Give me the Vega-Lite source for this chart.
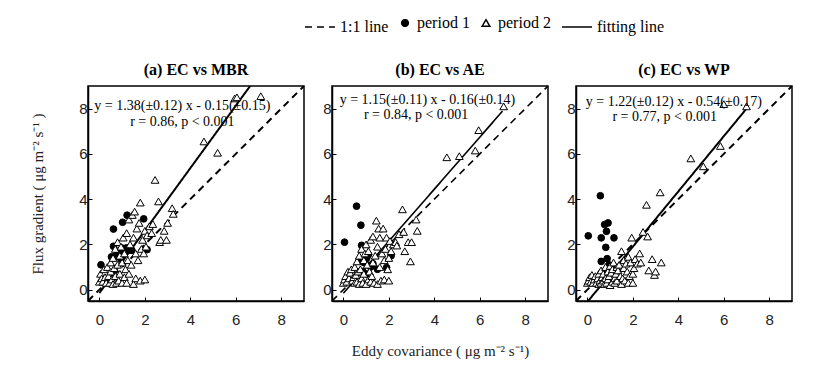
{
  "$schema": "https://vega.github.io/schema/vega-lite/v6.json",
  "padding": {"left": 29, "top": 11, "right": 5, "bottom": 5},
  "background": "white",
  "spacing": 16,
  "config": {
    "view": {"stroke": "black", "strokeWidth": 1.5},
    "axis": {"labelFont": "Liberation Sans", "labelFontSize": 15, "labelColor": "#222", "tickSize": -4, "tickColor": "black", "domainColor": "black", "domainWidth": 1.5, "grid": false, "labelPadding": 5, "titleFont": "Liberation Serif", "titleFontSize": 15, "titleFontWeight": "normal", "titleColor": "#222"},
    "title": {"font": "Liberation Serif", "fontSize": 16, "fontWeight": "bold", "color": "black", "offset": 8},
    "legend": {"orient": "none", "legendX": 216, "legendY": -75, "direction": "horizontal", "title": null, "labelFont": "Liberation Serif", "labelFontSize": 16, "labelColor": "black", "symbolStrokeColor": "black", "symbolStrokeWidth": 1.5, "columnPadding": 8}
  },
  "datasets": {
    "pts": [
      {"p":"a","s":"period 1","x":0.07,"y":1.1},{"p":"a","s":"period 1","x":0.62,"y":2.68},{"p":"a","s":"period 1","x":1.02,"y":2.98},{"p":"a","s":"period 1","x":1.22,"y":3.29},{"p":"a","s":"period 1","x":1.95,"y":3.13},{"p":"a","s":"period 1","x":0.62,"y":1.92},{"p":"a","s":"period 1","x":1.0,"y":1.84},{"p":"a","s":"period 1","x":1.2,"y":1.85},{"p":"a","s":"period 1","x":0.53,"y":1.45},{"p":"a","s":"period 1","x":0.7,"y":1.48},{"p":"a","s":"period 1","x":0.88,"y":1.55},{"p":"a","s":"period 1","x":1.28,"y":1.74},{"p":"a","s":"period 1","x":1.43,"y":1.74},{"p":"a","s":"period 1","x":2.1,"y":1.77},{"p":"a","s":"period 1","x":0.8,"y":1.7},{"p":"a","s":"period 1","x":1.1,"y":1.6},{"p":"a","s":"period 1","x":0.95,"y":1.35},
      {"p":"b","s":"period 1","x":0.05,"y":2.1},{"p":"b","s":"period 1","x":0.58,"y":3.69},{"p":"b","s":"period 1","x":0.77,"y":2.85},{"p":"b","s":"period 1","x":0.8,"y":1.96},{"p":"b","s":"period 1","x":1.9,"y":0.98},{"p":"b","s":"period 1","x":2.1,"y":1.5},{"p":"b","s":"period 1","x":1.03,"y":1.4},{"p":"b","s":"period 1","x":1.05,"y":1.1},{"p":"b","s":"period 1","x":0.9,"y":1.2},{"p":"b","s":"period 1","x":1.2,"y":1.0},{"p":"b","s":"period 1","x":0.85,"y":0.8},{"p":"b","s":"period 1","x":1.1,"y":1.55},{"p":"b","s":"period 1","x":1.3,"y":1.15},{"p":"b","s":"period 1","x":0.7,"y":1.3},{"p":"b","s":"period 1","x":1.5,"y":0.9},{"p":"b","s":"period 1","x":1.0,"y":0.7},
      {"p":"c","s":"period 1","x":0.57,"y":4.15},{"p":"c","s":"period 1","x":0.04,"y":2.38},{"p":"c","s":"period 1","x":0.61,"y":2.29},{"p":"c","s":"period 1","x":0.76,"y":2.88},{"p":"c","s":"period 1","x":0.91,"y":2.95},{"p":"c","s":"period 1","x":0.84,"y":2.58},{"p":"c","s":"period 1","x":0.81,"y":1.87},{"p":"c","s":"period 1","x":1.17,"y":2.29},{"p":"c","s":"period 1","x":0.61,"y":1.25},{"p":"c","s":"period 1","x":0.87,"y":1.37},{"p":"c","s":"period 1","x":0.95,"y":1.1},{"p":"c","s":"period 1","x":1.1,"y":0.9},{"p":"c","s":"period 1","x":0.7,"y":0.8},
      {"p":"a","s":"period 2","x":0.0,"y":0.35},{"p":"a","s":"period 2","x":0.05,"y":0.7},{"p":"a","s":"period 2","x":0.1,"y":0.5},{"p":"a","s":"period 2","x":0.15,"y":0.35},{"p":"a","s":"period 2","x":0.2,"y":0.9},{"p":"a","s":"period 2","x":0.25,"y":0.55},{"p":"a","s":"period 2","x":0.3,"y":0.3},{"p":"a","s":"period 2","x":0.35,"y":1.0},{"p":"a","s":"period 2","x":0.4,"y":0.6},{"p":"a","s":"period 2","x":0.45,"y":0.3},{"p":"a","s":"period 2","x":0.5,"y":1.2},{"p":"a","s":"period 2","x":0.5,"y":0.8},{"p":"a","s":"period 2","x":0.55,"y":0.45},{"p":"a","s":"period 2","x":0.6,"y":1.4},{"p":"a","s":"period 2","x":0.6,"y":0.25},{"p":"a","s":"period 2","x":0.65,"y":0.95},{"p":"a","s":"period 2","x":0.7,"y":0.6},{"p":"a","s":"period 2","x":0.7,"y":1.8},{"p":"a","s":"period 2","x":0.75,"y":0.3},{"p":"a","s":"period 2","x":0.8,"y":2.1},{"p":"a","s":"period 2","x":0.8,"y":1.1},{"p":"a","s":"period 2","x":0.85,"y":0.4},{"p":"a","s":"period 2","x":0.9,"y":1.5},{"p":"a","s":"period 2","x":0.9,"y":0.7},{"p":"a","s":"period 2","x":0.95,"y":1.9},{"p":"a","s":"period 2","x":1.0,"y":0.3},{"p":"a","s":"period 2","x":1.0,"y":1.2},{"p":"a","s":"period 2","x":1.05,"y":2.3},{"p":"a","s":"period 2","x":1.1,"y":0.55},{"p":"a","s":"period 2","x":1.1,"y":1.6},{"p":"a","s":"period 2","x":1.15,"y":0.9},{"p":"a","s":"period 2","x":1.2,"y":2.5},{"p":"a","s":"period 2","x":1.2,"y":0.3},{"p":"a","s":"period 2","x":1.25,"y":1.3},{"p":"a","s":"period 2","x":1.3,"y":3.1},{"p":"a","s":"period 2","x":1.3,"y":0.7},{"p":"a","s":"period 2","x":1.35,"y":2.0},{"p":"a","s":"period 2","x":1.4,"y":1.1},{"p":"a","s":"period 2","x":1.45,"y":3.3},{"p":"a","s":"period 2","x":1.5,"y":0.25},{"p":"a","s":"period 2","x":1.5,"y":2.3},{"p":"a","s":"period 2","x":1.55,"y":3.45},{"p":"a","s":"period 2","x":1.6,"y":1.6},{"p":"a","s":"period 2","x":1.6,"y":0.5},{"p":"a","s":"period 2","x":1.65,"y":2.7},{"p":"a","s":"period 2","x":1.7,"y":1.3},{"p":"a","s":"period 2","x":1.75,"y":2.95},{"p":"a","s":"period 2","x":1.8,"y":3.85},{"p":"a","s":"period 2","x":1.8,"y":0.4},{"p":"a","s":"period 2","x":1.85,"y":1.8},{"p":"a","s":"period 2","x":1.9,"y":2.2},{"p":"a","s":"period 2","x":1.95,"y":1.6},{"p":"a","s":"period 2","x":2.0,"y":0.45},{"p":"a","s":"period 2","x":2.0,"y":2.6},{"p":"a","s":"period 2","x":2.05,"y":1.9},{"p":"a","s":"period 2","x":2.1,"y":2.4},{"p":"a","s":"period 2","x":2.2,"y":2.8},{"p":"a","s":"period 2","x":2.3,"y":2.5},{"p":"a","s":"period 2","x":2.35,"y":2.9},{"p":"a","s":"period 2","x":2.45,"y":4.85},{"p":"a","s":"period 2","x":2.6,"y":3.9},{"p":"a","s":"period 2","x":2.65,"y":2.1},{"p":"a","s":"period 2","x":2.7,"y":2.2},{"p":"a","s":"period 2","x":2.85,"y":2.6},{"p":"a","s":"period 2","x":2.95,"y":2.2},{"p":"a","s":"period 2","x":3.0,"y":2.95},{"p":"a","s":"period 2","x":3.2,"y":3.6},{"p":"a","s":"period 2","x":3.25,"y":3.35},{"p":"a","s":"period 2","x":4.6,"y":6.55},{"p":"a","s":"period 2","x":5.2,"y":6.05},{"p":"a","s":"period 2","x":5.95,"y":8.45},{"p":"a","s":"period 2","x":6.05,"y":8.5},{"p":"a","s":"period 2","x":7.1,"y":8.55},
      {"p":"b","s":"period 2","x":0.0,"y":0.3},{"p":"b","s":"period 2","x":0.05,"y":0.45},{"p":"b","s":"period 2","x":0.1,"y":0.6},{"p":"b","s":"period 2","x":0.15,"y":0.35},{"p":"b","s":"period 2","x":0.2,"y":0.8},{"p":"b","s":"period 2","x":0.25,"y":0.5},{"p":"b","s":"period 2","x":0.3,"y":0.75},{"p":"b","s":"period 2","x":0.35,"y":0.9},{"p":"b","s":"period 2","x":0.4,"y":0.4},{"p":"b","s":"period 2","x":0.45,"y":0.55},{"p":"b","s":"period 2","x":0.5,"y":1.0},{"p":"b","s":"period 2","x":0.5,"y":0.3},{"p":"b","s":"period 2","x":0.55,"y":0.65},{"p":"b","s":"period 2","x":0.6,"y":1.25},{"p":"b","s":"period 2","x":0.6,"y":0.35},{"p":"b","s":"period 2","x":0.65,"y":0.8},{"p":"b","s":"period 2","x":0.7,"y":1.5},{"p":"b","s":"period 2","x":0.7,"y":0.25},{"p":"b","s":"period 2","x":0.75,"y":0.9},{"p":"b","s":"period 2","x":0.8,"y":1.8},{"p":"b","s":"period 2","x":0.8,"y":0.5},{"p":"b","s":"period 2","x":0.85,"y":0.3},{"p":"b","s":"period 2","x":0.9,"y":1.3},{"p":"b","s":"period 2","x":0.9,"y":0.7},{"p":"b","s":"period 2","x":0.95,"y":1.6},{"p":"b","s":"period 2","x":1.0,"y":0.25},{"p":"b","s":"period 2","x":1.0,"y":2.0},{"p":"b","s":"period 2","x":1.05,"y":1.1},{"p":"b","s":"period 2","x":1.1,"y":0.45},{"p":"b","s":"period 2","x":1.1,"y":1.7},{"p":"b","s":"period 2","x":1.15,"y":0.8},{"p":"b","s":"period 2","x":1.2,"y":2.2},{"p":"b","s":"period 2","x":1.2,"y":0.35},{"p":"b","s":"period 2","x":1.25,"y":0.6},{"p":"b","s":"period 2","x":1.3,"y":2.35},{"p":"b","s":"period 2","x":1.3,"y":1.2},{"p":"b","s":"period 2","x":1.35,"y":0.3},{"p":"b","s":"period 2","x":1.4,"y":1.5},{"p":"b","s":"period 2","x":1.45,"y":3.05},{"p":"b","s":"period 2","x":1.5,"y":0.25},{"p":"b","s":"period 2","x":1.5,"y":1.9},{"p":"b","s":"period 2","x":1.55,"y":2.7},{"p":"b","s":"period 2","x":1.6,"y":1.0},{"p":"b","s":"period 2","x":1.6,"y":2.3},{"p":"b","s":"period 2","x":1.65,"y":0.4},{"p":"b","s":"period 2","x":1.7,"y":1.6},{"p":"b","s":"period 2","x":1.75,"y":2.7},{"p":"b","s":"period 2","x":1.8,"y":1.3},{"p":"b","s":"period 2","x":1.8,"y":0.45},{"p":"b","s":"period 2","x":1.85,"y":1.8},{"p":"b","s":"period 2","x":1.9,"y":2.3},{"p":"b","s":"period 2","x":1.95,"y":0.9},{"p":"b","s":"period 2","x":2.0,"y":0.4},{"p":"b","s":"period 2","x":2.0,"y":1.4},{"p":"b","s":"period 2","x":2.05,"y":2.15},{"p":"b","s":"period 2","x":2.1,"y":1.7},{"p":"b","s":"period 2","x":2.2,"y":2.0},{"p":"b","s":"period 2","x":2.3,"y":2.1},{"p":"b","s":"period 2","x":2.35,"y":1.95},{"p":"b","s":"period 2","x":2.45,"y":2.45},{"p":"b","s":"period 2","x":2.6,"y":3.55},{"p":"b","s":"period 2","x":2.65,"y":2.55},{"p":"b","s":"period 2","x":2.7,"y":1.7},{"p":"b","s":"period 2","x":2.85,"y":2.1},{"p":"b","s":"period 2","x":2.95,"y":1.25},{"p":"b","s":"period 2","x":3.0,"y":2.1},{"p":"b","s":"period 2","x":3.2,"y":3.1},{"p":"b","s":"period 2","x":3.25,"y":2.6},{"p":"b","s":"period 2","x":4.55,"y":5.85},{"p":"b","s":"period 2","x":5.1,"y":5.9},{"p":"b","s":"period 2","x":5.8,"y":6.15},{"p":"b","s":"period 2","x":5.95,"y":7.05},{"p":"b","s":"period 2","x":7.05,"y":8.1},
      {"p":"c","s":"period 2","x":0.0,"y":0.3},{"p":"c","s":"period 2","x":0.05,"y":0.4},{"p":"c","s":"period 2","x":0.1,"y":0.55},{"p":"c","s":"period 2","x":0.15,"y":0.35},{"p":"c","s":"period 2","x":0.2,"y":0.65},{"p":"c","s":"period 2","x":0.25,"y":0.3},{"p":"c","s":"period 2","x":0.3,"y":0.45},{"p":"c","s":"period 2","x":0.35,"y":0.6},{"p":"c","s":"period 2","x":0.4,"y":0.3},{"p":"c","s":"period 2","x":0.45,"y":0.5},{"p":"c","s":"period 2","x":0.5,"y":0.7},{"p":"c","s":"period 2","x":0.5,"y":0.25},{"p":"c","s":"period 2","x":0.55,"y":0.4},{"p":"c","s":"period 2","x":0.6,"y":0.85},{"p":"c","s":"period 2","x":0.6,"y":0.3},{"p":"c","s":"period 2","x":0.65,"y":0.55},{"p":"c","s":"period 2","x":0.7,"y":0.4},{"p":"c","s":"period 2","x":0.7,"y":0.7},{"p":"c","s":"period 2","x":0.75,"y":0.25},{"p":"c","s":"period 2","x":0.8,"y":1.0},{"p":"c","s":"period 2","x":0.8,"y":0.5},{"p":"c","s":"period 2","x":0.85,"y":0.3},{"p":"c","s":"period 2","x":0.9,"y":0.8},{"p":"c","s":"period 2","x":0.9,"y":0.45},{"p":"c","s":"period 2","x":0.95,"y":0.6},{"p":"c","s":"period 2","x":1.0,"y":0.2},{"p":"c","s":"period 2","x":1.0,"y":1.05},{"p":"c","s":"period 2","x":1.05,"y":0.75},{"p":"c","s":"period 2","x":1.1,"y":0.35},{"p":"c","s":"period 2","x":1.1,"y":0.9},{"p":"c","s":"period 2","x":1.15,"y":1.2},{"p":"c","s":"period 2","x":1.2,"y":0.5},{"p":"c","s":"period 2","x":1.2,"y":0.3},{"p":"c","s":"period 2","x":1.25,"y":0.7},{"p":"c","s":"period 2","x":1.3,"y":1.0},{"p":"c","s":"period 2","x":1.3,"y":0.4},{"p":"c","s":"period 2","x":1.35,"y":0.85},{"p":"c","s":"period 2","x":1.4,"y":1.1},{"p":"c","s":"period 2","x":1.45,"y":0.6},{"p":"c","s":"period 2","x":1.5,"y":0.25},{"p":"c","s":"period 2","x":1.5,"y":1.7},{"p":"c","s":"period 2","x":1.55,"y":0.5},{"p":"c","s":"period 2","x":1.6,"y":0.95},{"p":"c","s":"period 2","x":1.6,"y":1.3},{"p":"c","s":"period 2","x":1.65,"y":0.4},{"p":"c","s":"period 2","x":1.7,"y":1.15},{"p":"c","s":"period 2","x":1.75,"y":0.8},{"p":"c","s":"period 2","x":1.8,"y":1.45},{"p":"c","s":"period 2","x":1.8,"y":0.3},{"p":"c","s":"period 2","x":1.85,"y":0.6},{"p":"c","s":"period 2","x":1.9,"y":1.2},{"p":"c","s":"period 2","x":1.95,"y":2.3},{"p":"c","s":"period 2","x":2.0,"y":0.3},{"p":"c","s":"period 2","x":2.0,"y":0.7},{"p":"c","s":"period 2","x":2.05,"y":0.95},{"p":"c","s":"period 2","x":2.1,"y":1.35},{"p":"c","s":"period 2","x":2.2,"y":1.15},{"p":"c","s":"period 2","x":2.3,"y":1.6},{"p":"c","s":"period 2","x":2.35,"y":1.2},{"p":"c","s":"period 2","x":2.45,"y":2.55},{"p":"c","s":"period 2","x":2.6,"y":3.75},{"p":"c","s":"period 2","x":2.65,"y":2.35},{"p":"c","s":"period 2","x":2.7,"y":0.85},{"p":"c","s":"period 2","x":2.85,"y":1.35},{"p":"c","s":"period 2","x":2.95,"y":0.65},{"p":"c","s":"period 2","x":3.0,"y":0.8},{"p":"c","s":"period 2","x":3.2,"y":4.3},{"p":"c","s":"period 2","x":3.25,"y":1.2},{"p":"c","s":"period 2","x":4.55,"y":5.8},{"p":"c","s":"period 2","x":5.1,"y":5.45},{"p":"c","s":"period 2","x":5.85,"y":6.35},{"p":"c","s":"period 2","x":6.0,"y":8.2},{"p":"c","s":"period 2","x":7.0,"y":8.1}
    ],
    "lines": [
      {"p":"a","s":"1:1 line","x":-0.5,"y":-0.5},{"p":"a","s":"1:1 line","x":9,"y":9},
      {"p":"b","s":"1:1 line","x":-0.5,"y":-0.5},{"p":"b","s":"1:1 line","x":9,"y":9},
      {"p":"c","s":"1:1 line","x":-0.5,"y":-0.5},{"p":"c","s":"1:1 line","x":9,"y":9},
      {"p":"a","s":"fitting line","x":0,"y":-0.15},{"p":"a","s":"fitting line","x":7,"y":9.51},
      {"p":"b","s":"fitting line","x":0,"y":-0.16},{"p":"b","s":"fitting line","x":7,"y":7.89},
      {"p":"c","s":"fitting line","x":0,"y":-0.54},{"p":"c","s":"fitting line","x":7,"y":8.0}
    ],
    "texts": [
      {"p":"a","t":"y = 1.38(±0.12) x - 0.15(±0.15)","x":3.65,"y":8.1},
      {"p":"a","t":"r  = 0.86,  p  < 0.001","x":3.65,"y":7.4},
      {"p":"b","t":"y = 1.15(±0.11) x - 0.16(±0.14)","x":3.7,"y":8.4},
      {"p":"b","t":"r  = 0.84,  p  < 0.001","x":3.2,"y":7.7},
      {"p":"c","t":"y = 1.22(±0.12) x - 0.54(±0.17)","x":3.8,"y":8.3},
      {"p":"c","t":"r  = 0.77,  p  < 0.001","x":3.4,"y":7.65}
    ]
  },
  "hconcat": [
    {
      "width": 216, "height": 215,
      "title": "(a) EC vs MBR",
      "layer": [
        {"data": {"name": "lines"}, "transform": [{"filter": "datum.p === 'a'"}], "mark": {"type": "line", "clip": true},
         "encoding": {
           "x": {"field": "x", "type": "quantitative", "scale": {"domain": [-0.5, 9], "nice": false}, "axis": {"values": [0,2,4,6,8], "title": null, "labelPadding": 15}},
           "y": {"field": "y", "type": "quantitative", "scale": {"domain": [-0.5, 9], "nice": false}, "axis": {"values": [0,2,4,6,8], "title": "Flux gradient ( μg m⁻² s⁻¹ )", "titlePadding": 33}},
           "strokeDash": {"field": "s", "type": "nominal", "scale": {"domain": ["1:1 line","period 1","period 2","fitting line"], "range": [[7,5],[1,0],[1,0],[1,0]]}},
           "stroke": {"field": "s", "type": "nominal", "scale": {"domain": ["1:1 line","period 1","period 2","fitting line"], "range": ["black","black","black","black"]}},
           "strokeWidth": {"value": 2}
         }},
        {"data": {"name": "pts"}, "transform": [{"filter": "datum.p === 'a'"}], "mark": {"type": "point", "filled": false, "strokeWidth": 1, "opacity": 1},
         "encoding": {
           "x": {"field": "x", "type": "quantitative"},
           "y": {"field": "y", "type": "quantitative"},
           "shape": {"field": "s", "type": "nominal", "scale": {"domain": ["1:1 line","period 1","period 2","fitting line"], "range": ["stroke","circle","triangle-up","stroke"]}},
           "stroke": {"field": "s", "type": "nominal"},
           "fill": {"field": "s", "type": "nominal", "scale": {"domain": ["1:1 line","period 1","period 2","fitting line"], "range": ["black","black","white","black"]}},
           "size": {"field": "s", "type": "nominal", "scale": {"type": "ordinal", "domain": ["1:1 line","period 1","period 2","fitting line"], "range": [900, 45, 60, 900]}}
         }},
        {"data": {"name": "texts"}, "transform": [{"filter": "datum.p === 'a'"}], "mark": {"type": "text", "font": "Liberation Serif", "fontSize": 14, "color": "black"},
         "encoding": {"x": {"field": "x", "type": "quantitative"}, "y": {"field": "y", "type": "quantitative"}, "text": {"field": "t"}}}
      ]
    },
    {
      "width": 216, "height": 215,
      "title": "(b) EC vs AE",
      "layer": [
        {"data": {"name": "lines"}, "transform": [{"filter": "datum.p === 'b'"}], "mark": {"type": "line", "clip": true},
         "encoding": {
           "x": {"field": "x", "type": "quantitative", "scale": {"domain": [-0.5, 9], "nice": false}, "axis": {"values": [0,2,4,6,8], "title": "Eddy covariance ( μg m⁻² s⁻¹)", "titlePadding": 16, "labelPadding": 15}},
           "y": {"field": "y", "type": "quantitative", "scale": {"domain": [-0.5, 9], "nice": false}, "axis": {"values": [0,2,4,6,8], "title": null}},
           "strokeDash": {"field": "s", "type": "nominal", "scale": {"domain": ["1:1 line","period 1","period 2","fitting line"], "range": [[7,5],[1,0],[1,0],[1,0]]}},
           "stroke": {"field": "s", "type": "nominal", "scale": {"domain": ["1:1 line","period 1","period 2","fitting line"], "range": ["black","black","black","black"]}},
           "strokeWidth": {"value": 1.6}
         }},
        {"data": {"name": "pts"}, "transform": [{"filter": "datum.p === 'b'"}], "mark": {"type": "point", "filled": false, "strokeWidth": 1, "opacity": 1},
         "encoding": {
           "x": {"field": "x", "type": "quantitative"},
           "y": {"field": "y", "type": "quantitative"},
           "shape": {"field": "s", "type": "nominal", "scale": {"domain": ["1:1 line","period 1","period 2","fitting line"], "range": ["stroke","circle","triangle-up","stroke"]}},
           "stroke": {"field": "s", "type": "nominal"},
           "fill": {"field": "s", "type": "nominal", "scale": {"domain": ["1:1 line","period 1","period 2","fitting line"], "range": ["black","black","white","black"]}},
           "size": {"field": "s", "type": "nominal", "scale": {"type": "ordinal", "domain": ["1:1 line","period 1","period 2","fitting line"], "range": [900, 45, 60, 900]}}
         }},
        {"data": {"name": "texts"}, "transform": [{"filter": "datum.p === 'b'"}], "mark": {"type": "text", "font": "Liberation Serif", "fontSize": 14, "color": "black"},
         "encoding": {"x": {"field": "x", "type": "quantitative"}, "y": {"field": "y", "type": "quantitative"}, "text": {"field": "t"}}}
      ]
    },
    {
      "width": 216, "height": 215,
      "title": "(c) EC vs WP",
      "layer": [
        {"data": {"name": "lines"}, "transform": [{"filter": "datum.p === 'c'"}], "mark": {"type": "line", "clip": true},
         "encoding": {
           "x": {"field": "x", "type": "quantitative", "scale": {"domain": [-0.5, 9], "nice": false}, "axis": {"values": [0,2,4,6,8], "title": null, "labelPadding": 15}},
           "y": {"field": "y", "type": "quantitative", "scale": {"domain": [-0.5, 9], "nice": false}, "axis": {"values": [0,2,4,6,8], "title": null}},
           "strokeDash": {"field": "s", "type": "nominal", "scale": {"domain": ["1:1 line","period 1","period 2","fitting line"], "range": [[7,5],[1,0],[1,0],[1,0]]}},
           "stroke": {"field": "s", "type": "nominal", "scale": {"domain": ["1:1 line","period 1","period 2","fitting line"], "range": ["black","black","black","black"]}},
           "strokeWidth": {"value": 2}
         }},
        {"data": {"name": "pts"}, "transform": [{"filter": "datum.p === 'c'"}], "mark": {"type": "point", "filled": false, "strokeWidth": 1, "opacity": 1},
         "encoding": {
           "x": {"field": "x", "type": "quantitative"},
           "y": {"field": "y", "type": "quantitative"},
           "shape": {"field": "s", "type": "nominal", "scale": {"domain": ["1:1 line","period 1","period 2","fitting line"], "range": ["stroke","circle","triangle-up","stroke"]}},
           "stroke": {"field": "s", "type": "nominal"},
           "fill": {"field": "s", "type": "nominal", "scale": {"domain": ["1:1 line","period 1","period 2","fitting line"], "range": ["black","black","white","black"]}},
           "size": {"field": "s", "type": "nominal", "scale": {"type": "ordinal", "domain": ["1:1 line","period 1","period 2","fitting line"], "range": [900, 45, 60, 900]}}
         }},
        {"data": {"name": "texts"}, "transform": [{"filter": "datum.p === 'c'"}], "mark": {"type": "text", "font": "Liberation Serif", "fontSize": 14, "color": "black"},
         "encoding": {"x": {"field": "x", "type": "quantitative"}, "y": {"field": "y", "type": "quantitative"}, "text": {"field": "t"}}}
      ]
    }
  ]
}
